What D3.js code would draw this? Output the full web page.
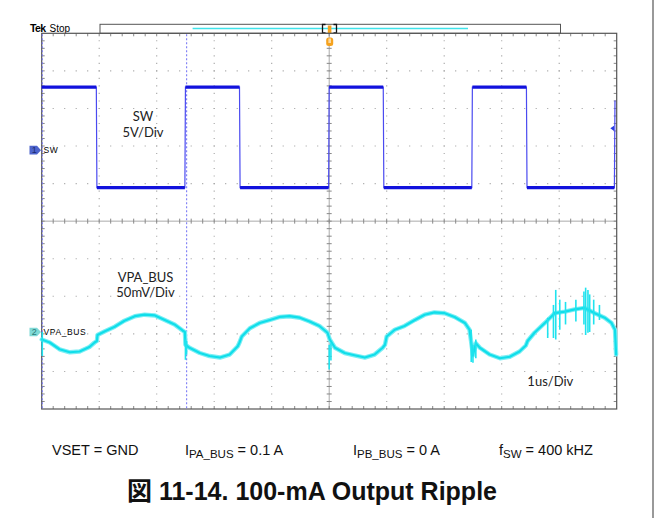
<!DOCTYPE html>
<html><head><meta charset="utf-8">
<script src="https://cdn.jsdelivr.net/npm/d3@7"></script>
<style>body{margin:0;background:#fff} svg{display:block}</style>
</head><body>
<script>
// ---- Channel 1 : SW (5 V/div), time in µs
const swTime = [0, 0.95, 0.96, 2.49, 2.50, 3.44, 3.45, 4.99, 5.00, 5.94, 5.95, 7.48, 7.49, 8.43, 8.44, 9.96, 9.97];
const swVolt = [8.4, 8.4, -5.0, -5.0, 8.4, 8.4, -5.0, -5.0, 8.4, 8.4, -5.0, -5.0, 8.4, 8.4, -5.0, -5.0, 6.6];

// ---- Channel 2 : VPA_BUS (50 mV/div), time in µs, mV
const vpaTime = [0.00,0.14,0.31,0.49,0.66,0.83,0.92,0.96,0.97,1.10,1.27,1.44,1.62,1.79,1.97,2.14,2.31,2.45,2.49,
  2.50,2.57,2.75,2.92,3.10,3.27,3.41,3.44,3.48,3.62,3.79,3.97,4.14,4.31,4.49,4.66,4.83,4.97,
  5.01,5.10,5.27,5.44,5.62,5.79,5.93,5.97,6.00,6.14,6.31,6.49,6.66,6.83,7.01,7.18,7.36,7.44,
  7.50,7.55,7.62,7.79,7.97,8.14,8.31,8.42,8.45,8.57,8.75,8.92,9.10,9.27,9.44,9.62,9.79,9.91,9.97,9.99];
const vpaMilliVolt = [-10,-14,-23,-27,-26,-20,-14,-12,-4,1,7,15,21,23,22,16,10,2,0,
  -17,-21,-28,-32,-34,-30,-19,-14,-6,5,12,16,20,21,19,14,8,-1,
  -10,-21,-28,-31,-34,-30,-21,-17,-6,3,8,16,23,26,25,20,12,3,
  -31,-15,-21,-30,-35,-33,-26,-18,-12,-1,12,25,27,30,32,25,19,12,3,-30];

// ---- Channel 2 noise spikes: time µs, min mV, max mV
const spikeTime = [0.01, 2.50, 2.52, 5.00, 5.03, 7.47, 7.50, 7.55, 8.80, 8.90, 8.94, 9.01, 9.11, 9.29, 9.43, 9.46, 9.50, 9.53, 9.60, 9.70];
const spikeMin  = [-32, -37, -30, -50, -38, -40, -41, -35, -8, -8, -10, 3, 10, 14, 10, -4, -1, 0, 10, 16];
const spikeMax  = [0, -10, -12, -17, -15, 3, -17, -10, 19, 36, 56, 43, 40, 43, 54, 59, 56, 50, 43, 36];

// ---- Cursors (µs)
const cursorTime = [0, 2.51];

// ---- Scope settings
const ch1OffsetDiv = 1.89, ch1VoltsPerDiv = 5;
const ch2OffsetDiv = -2.95, ch2mVPerDiv = 50;
const timeDomain = [0, 10];
const divDomain = [-5, 5];

const W = 660, H = 518;
const svg = d3.select("body").append("svg").attr("width", W).attr("height", H);

const x = d3.scaleLinear().domain(timeDomain).range([41.7, 616.7]);
const yDiv = d3.scaleLinear().domain(divDomain).range([409, 33.3]);
const y1 = v => yDiv(v / ch1VoltsPerDiv + ch1OffsetDiv);
const y2 = v => yDiv(v / ch2mVPerDiv + ch2OffsetDiv);

svg.append("line").attr("x1", 653).attr("x2", 653).attr("y1", 0).attr("y2", H)
  .attr("stroke", "#555").attr("stroke-width", 1.2);

// ---- record bar
const bar = svg.append("g");
bar.append("rect").attr("x", 100).attr("y", 24.3).attr("width", 460.5).attr("height", 9)
  .attr("fill", "#fff").attr("stroke", "#555").attr("stroke-width", 1);
bar.append("line").attr("x1", 192.6).attr("x2", 468).attr("y1", 28.5).attr("y2", 28.5)
  .attr("stroke", "#3fe3ea").attr("stroke-width", 1.6);
bar.append("path").attr("d", "M325.5,24.5H322.5V33H325.5M333.5,24.5H336.5V33H333.5")
  .attr("fill", "none").attr("stroke", "#111").attr("stroke-width", 1.3);
bar.append("rect").attr("x", 327.8).attr("y", 25.5).attr("width", 3.6).attr("height", 7.5)
  .attr("fill", "#f5a21e");

svg.append("text").attr("x", 30).attr("y", 31.5).attr("font-family", "Liberation Sans, Arial")
  .attr("font-size", 10.5).attr("font-weight", "bold").attr("letter-spacing", -0.6).text("Tek");
svg.append("text").attr("x", 49.5).attr("y", 31.5).attr("font-family", "Liberation Sans, Arial")
  .attr("font-size", 10).text("Stop");

// ---- graticule
const g = svg.append("g");
const x0 = x(timeDomain[0]), x1 = x(timeDomain[1]), yT = yDiv(5), yB = yDiv(-5);
const hStep = (x1 - x0) / 50, vStep = (yB - yT) / 50;

d3.range(1, 10).filter(d => d !== 5).forEach(i => {
  g.append("line").attr("x1", x(i)).attr("x2", x(i)).attr("y1", yT).attr("y2", yB)
    .attr("stroke", "#a5a5a5").attr("stroke-width", 1.1)
    .attr("stroke-dasharray", `1.1 ${vStep - 1.1}`).attr("stroke-dashoffset", -vStep + 0.55);
});
d3.range(-4, 5).filter(d => d !== 0).forEach(i => {
  g.append("line").attr("x1", x0).attr("x2", x1).attr("y1", yDiv(i)).attr("y2", yDiv(i))
    .attr("stroke", "#a5a5a5").attr("stroke-width", 1.1)
    .attr("stroke-dasharray", `1.1 ${hStep - 1.1}`).attr("stroke-dashoffset", -hStep + 0.55);
});
const xc = x(5), yc = yDiv(0);
g.append("line").attr("x1", x0).attr("x2", x1).attr("y1", yc).attr("y2", yc).attr("stroke", "#aaa");
g.append("line").attr("x1", xc).attr("x2", xc).attr("y1", yT).attr("y2", yB).attr("stroke", "#aaa");
const tickPath = d3.path();
for (let i = 1; i < 50; i++) {
  const xx = x0 + i * hStep, yy = yT + i * vStep;
  tickPath.moveTo(xx, yc - 2.5); tickPath.lineTo(xx, yc + 2.5);
  tickPath.moveTo(xc - 2.5, yy); tickPath.lineTo(xc + 2.5, yy);
  tickPath.moveTo(xx, yT); tickPath.lineTo(xx, yT + 3);
  tickPath.moveTo(xx, yB); tickPath.lineTo(xx, yB - 3);
  tickPath.moveTo(x0, yy); tickPath.lineTo(x0 + 3, yy);
  tickPath.moveTo(x1, yy); tickPath.lineTo(x1 - 3, yy);
}
g.append("path").attr("d", tickPath.toString()).attr("stroke", "#888").attr("stroke-width", 1).attr("fill", "none");
g.append("rect").attr("x", x0).attr("y", yT).attr("width", x1 - x0).attr("height", yB - yT)
  .attr("fill", "none").attr("stroke", "#555").attr("stroke-width", 1.2);

svg.selectAll(".cursor").data(cursorTime).join("line").attr("class", "cursor")
  .attr("x1", d => x(d) + 0.6).attr("x2", d => x(d) + 0.6).attr("y1", yT + 1).attr("y2", yB)
  .attr("stroke", "#7b7bf5").attr("stroke-width", 1.1).attr("stroke-dasharray", "2 2");

svg.append("rect").attr("x", 326.2).attr("y", 37.5).attr("width", 7).attr("height", 8.5).attr("rx", 2.5)
  .attr("fill", "#f5a21e");
svg.append("rect").attr("x", 328.4).attr("y", 38.5).attr("width", 2.6).attr("height", 4.5)
  .attr("fill", "#fcd9a0");

// ---- Channel 2 trace
const vpa = vpaTime.map((t, i) => [t, vpaMilliVolt[i]]);
const vLine = d3.line().x(d => x(d[0])).y(d => y2(d[1]));
svg.append("path").datum(vpa).attr("d", vLine)
  .attr("fill", "none").attr("stroke", "#7aeef4").attr("stroke-width", 4.4)
  .attr("stroke-linejoin", "round").attr("stroke-linecap", "round");
svg.append("path").datum(vpa).attr("d", vLine)
  .attr("fill", "none").attr("stroke", "#10deea").attr("stroke-width", 2.2)
  .attr("stroke-linejoin", "round").attr("stroke-linecap", "round");
svg.selectAll(".spike").data(spikeTime.map((t, i) => [t, spikeMin[i], spikeMax[i]])).join("line")
  .attr("class", "spike")
  .attr("x1", d => x(d[0])).attr("x2", d => x(d[0]))
  .attr("y1", d => y2(d[1])).attr("y2", d => y2(d[2]))
  .attr("stroke", "#1fe3ee").attr("stroke-width", 1.6);

// ---- Channel 1 trace
const sw = swTime.map((t, i) => [t, swVolt[i]]);
svg.append("path").datum(sw)
  .attr("d", d3.line().x(d => x(d[0])).y(d => y1(d[1])))
  .attr("fill", "none").attr("stroke", "#4a4af0").attr("stroke-width", 1.2);
const flats = sw.slice(1).map((d, i) => [sw[i], d]).filter(p => p[0][1] === p[1][1]);
svg.selectAll(".flat").data(flats).join("line").attr("class", "flat")
  .attr("x1", d => x(d[0][0])).attr("x2", d => x(d[1][0]))
  .attr("y1", d => y1(d[0][1])).attr("y2", d => y1(d[1][1]))
  .attr("stroke", "#1212dd").attr("stroke-width", 3.2);

svg.append("path").attr("d", `M610.3,${y1(2.9)}L614,${y1(2.9) - 2.6}L614,${y1(2.9) + 2.6}Z`).attr("fill", "#2a3de0");

// ---- channel markers
function marker(yy, label, fill, textFill) {
  svg.append("path").attr("d", `M29.5,${yy - 4.3}H37L41,${yy}L37,${yy + 4.3}H29.5Z`).attr("fill", fill);
  svg.append("text").attr("x", 34.2).attr("y", yy + 3.3).attr("text-anchor", "middle")
    .attr("font-family", "Liberation Sans, Arial").attr("font-size", 9).attr("fill", textFill).text(label);
}
marker(y1(0), "1", "#4d64cc", "#1b2a70");
marker(y2(0), "2", "#7fd9d6", "#2a7b78");

const small = { "font-family": "Liberation Sans, Arial", "font-size": 8.5, "letter-spacing": 0.6 };
function txt(xx, yy, s, attrs) {
  const t = svg.append("text").attr("x", xx).attr("y", yy).text(s);
  Object.entries(attrs).forEach(([k, v]) => t.attr(k, v));
  return t;
}
txt(43.5, y1(0) + 3, "SW", small);
txt(43.5, y2(0) + 3, "VPA_BUS", small);

const lbl = { "font-family": "Lato, Carlito, 'Open Sans', sans-serif", "font-size": 13, "text-anchor": "middle", "fill": "#222" };
txt(143, 120.5, "SW", lbl);
txt(143, 137, "5V/Div", lbl);
txt(145.5, 281.7, "VPA_BUS", lbl);
txt(145.5, 297.3, "50mV/Div", lbl);
txt(550.3, 385.7, "1us/Div", lbl);

// ---- conditions line
const cond = { "font-family": "Liberation Sans, Arial", "font-size": 14.5, "fill": "#111" };
txt(52, 454.5, "VSET = GND", cond);
function subText(xx, main, sub, rest) {
  const t = txt(xx, 454.5, "", cond);
  t.append("tspan").text(main);
  t.append("tspan").attr("font-size", 11.5).attr("dy", 3.5).text(sub);
  t.append("tspan").attr("dy", -3.5).text(rest);
}
subText(185, "I", "PA_BUS", " = 0.1 A");
subText(353, "I", "PB_BUS", " = 0 A");
subText(499, "f", "SW", " = 400 kHZ");

// ---- title
txt(312, 500, "図 11-14. 100-mA Output Ripple", {
  "font-family": "Liberation Sans, Arial, 'Noto Sans CJK JP'", "font-size": 25, "font-weight": "bold",
  "text-anchor": "middle", "fill": "#111" });
</script>
</body></html>
